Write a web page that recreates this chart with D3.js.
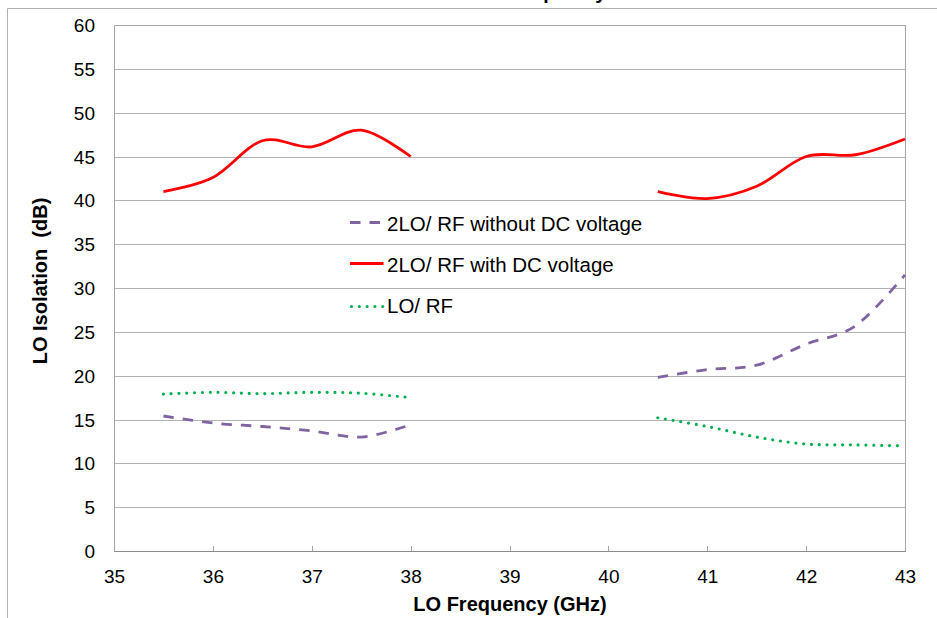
<!DOCTYPE html>
<html><head><meta charset="utf-8">
<script src="https://cdn.jsdelivr.net/npm/d3@7"></script>
<style>body{margin:0;background:#fff;}svg{display:block;font-family:"Liberation Sans",Arial,sans-serif;}</style>
</head><body>
<svg id="c" width="937" height="618"></svg>
<script>
const freqs = [35.5,36,36.5,37,37.5,38,38.5,39,39.5,40,40.5,41,41.5,42,42.5,43];
const noDC  = [15.4,14.6,14.2,13.7,13.0,14.4,null,null,null,null,19.8,20.7,21.2,23.6,25.7,31.5];
const withDC= [41.0,42.6,46.8,46.1,48.0,45.0,null,null,null,null,41.0,40.2,41.6,45.0,45.2,47.0];
const loRF  = [17.9,18.1,17.95,18.1,18.0,17.5,null,null,null,null,15.2,14.2,13.0,12.2,12.1,12.0];
const xTicks = [35,36,37,38,39,40,41,42,43];
const yTicks = [0,5,10,15,20,25,30,35,40,45,50,55,60];
const seriesNames = ["2LO/ RF without DC voltage","2LO/ RF with DC voltage","LO/ RF"];

const svg = d3.select("#c");
const L=114,R=905,T=25,B=551;
const x = d3.scaleLinear().domain([35,43]).range([L,R]);
const y = d3.scaleLinear().domain([0,60]).range([B,T]);
const FONT = "Liberation Sans, Arial, sans-serif";

// outer chart border (partially visible)
svg.append("line").attr("x1",7.5).attr("x2",937).attr("y1",8.5).attr("y2",8.5).attr("stroke","#b0b0b0").attr("stroke-width",1);
svg.append("line").attr("x1",7.5).attr("x2",7.5).attr("y1",8.5).attr("y2",618).attr("stroke","#b0b0b0").attr("stroke-width",1);
// cut-off title (only descenders visible at the top edge, as in the reference)
svg.append("text").attr("x",462).attr("y",-1).attr("text-anchor","middle").attr("font-weight","bold").attr("font-size",20).text("LO Isolation vs. LO Frequency");

// gridlines
svg.append("g").selectAll("line").data(yTicks).join("line")
  .attr("x1",L).attr("x2",R).attr("y1",d=>Math.round(y(d))+0.5).attr("y2",d=>Math.round(y(d))+0.5)
  .attr("stroke","#b3b3b3").attr("stroke-width",1);
// plot border
svg.append("rect").attr("x",L+0.5).attr("y",T+0.5).attr("width",R-L).attr("height",B-T)
  .attr("fill","none").attr("stroke","#a6a6a6").attr("stroke-width",1);

// y axis labels
const ya = svg.append("g").attr("transform",`translate(${L},0)`).call(d3.axisLeft(y).tickValues(yTicks).tickSize(0).tickPadding(19));
ya.select(".domain").remove();
ya.selectAll("text").attr("font-size",19).attr("font-family",FONT).attr("fill","#000").attr("dy","0.35em");

// x axis
const xa = svg.append("g").attr("transform",`translate(0,${B})`).call(d3.axisBottom(x).tickValues(xTicks).tickSize(0).tickPadding(19));
xa.select(".domain").attr("stroke","#8c8c8c");
xa.selectAll("text").attr("font-size",19).attr("font-family",FONT).attr("fill","#000");
svg.append("g").selectAll("line").data(xTicks).join("line")
  .attr("x1",d=>Math.round(x(d))+0.5).attr("x2",d=>Math.round(x(d))+0.5).attr("y1",B).attr("y2",B-5)
  .attr("stroke","#a6a6a6");

// axis titles
svg.append("text").attr("x",510).attr("y",611).attr("text-anchor","middle").attr("font-weight","bold").attr("font-size",20).text("LO Frequency (GHz)");
svg.append("text").attr("transform","translate(47,281) rotate(-90)").attr("text-anchor","middle").attr("font-weight","bold").attr("font-size",20).style("white-space","pre").text("LO Isolation  (dB)");

const line = d3.line().defined(d=>d[1]!=null).x(d=>x(d[0])).y(d=>y(d[1])).curve(d3.curveCardinal.tension(0));
const styles = [
  {data:noDC, color:"#8064a2", w:2.8, dash:"10.5,9", cap:"butt"},
  {data:withDC, color:"#ff0000", w:2.8, dash:null, cap:"butt"},
  {data:loRF, color:"#00b050", w:3.2, dash:"0,7.8", cap:"round"}
];
styles.forEach(s=>{
  const pts = freqs.map((f,i)=>[f,s.data[i]]);
  svg.append("path").attr("d",line(pts)).attr("fill","none").attr("stroke",s.color)
    .attr("stroke-width",s.w).attr("stroke-dasharray",s.dash).attr("stroke-linecap",s.cap);
});

// legend
const symY=[222,263,306], txtY=[231,272,313];
seriesNames.forEach((n,i)=>{
  const s=styles[i];
  svg.append("line").attr("x1",i==2?351.5:350).attr("x2",i==0?382:383.5).attr("y1",symY[i]+0.5).attr("y2",symY[i]+0.5)
    .attr("stroke",s.color).attr("stroke-width",s.w).attr("stroke-dasharray",s.dash).attr("stroke-linecap",s.cap);
  svg.append("text").attr("x",387).attr("y",txtY[i]).attr("font-size",20.5).text(n);
});
</script>
</body></html>
